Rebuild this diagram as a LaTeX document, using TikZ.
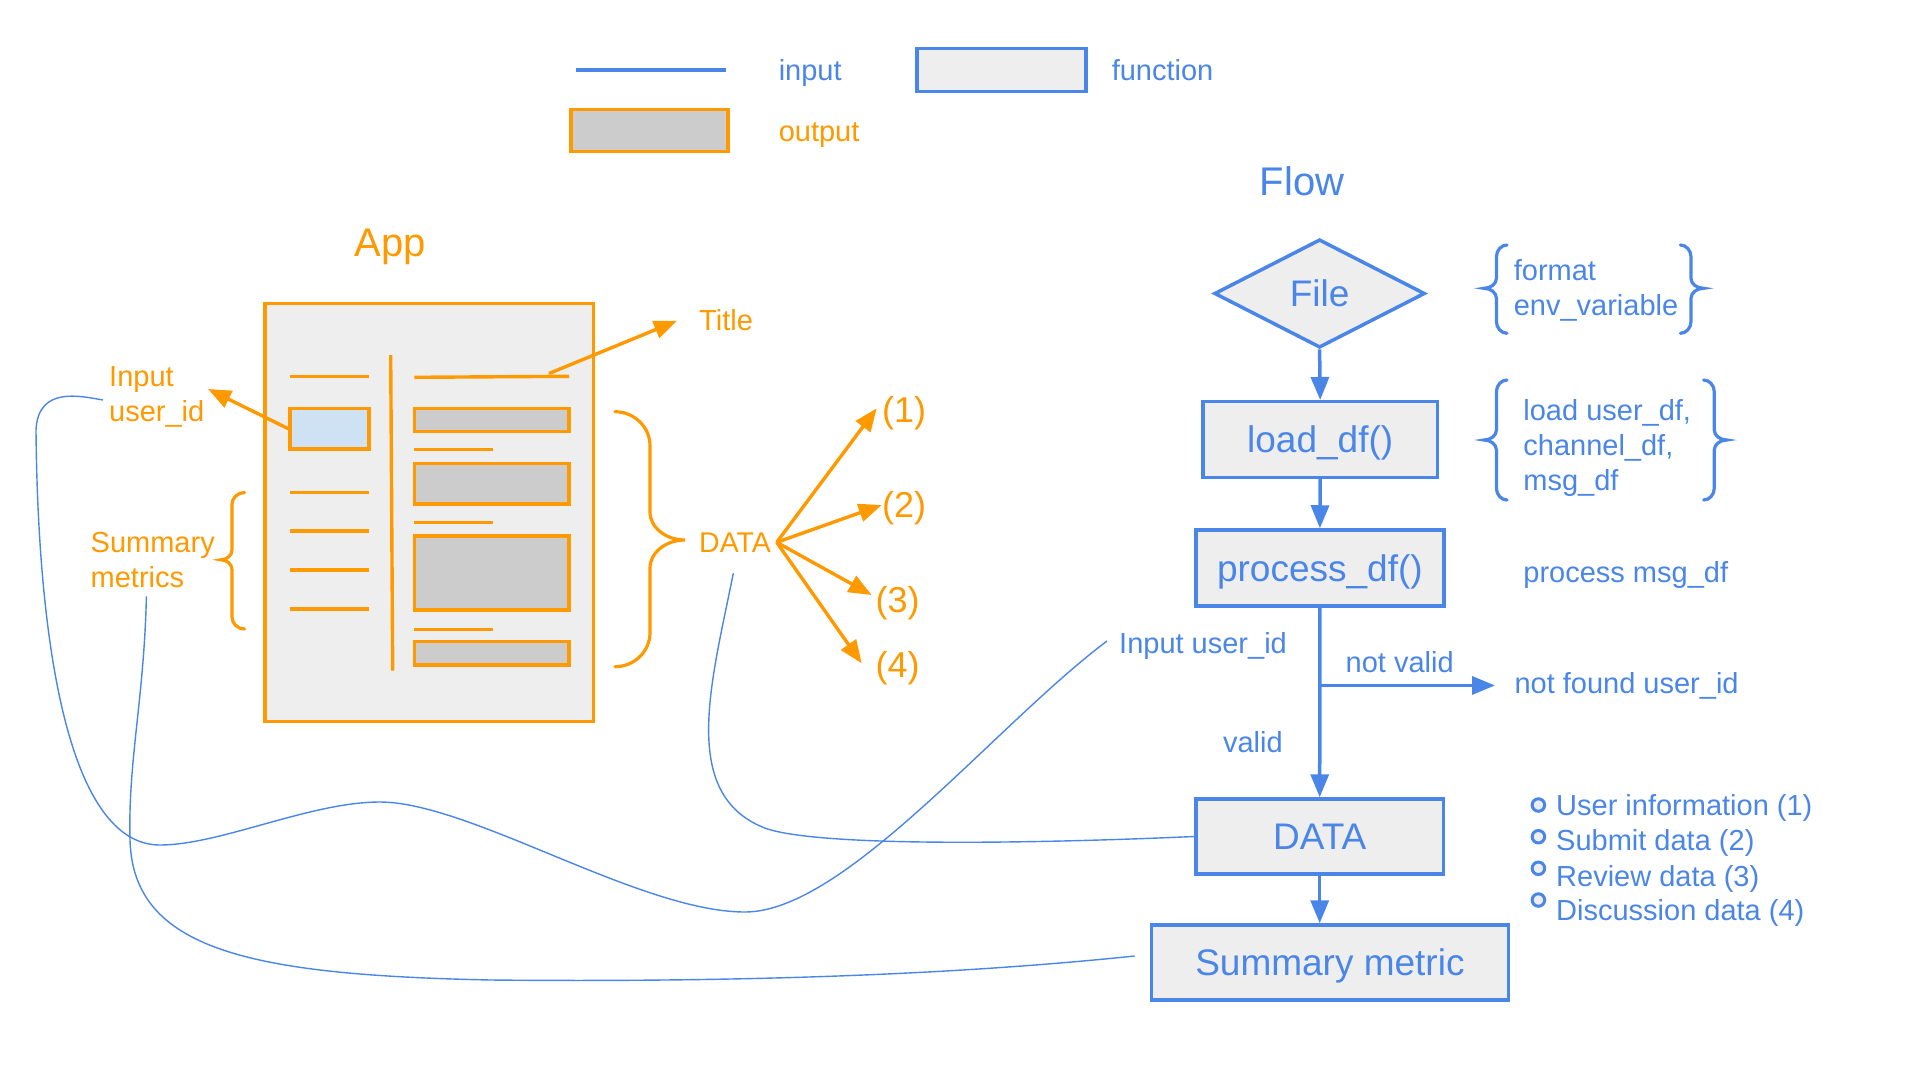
\documentclass[tikz,border=0pt]{standalone}
\usepackage{fontspec}
\setmainfont{Liberation Sans}
\usetikzlibrary{arrows.meta,shapes.geometric,calc}
\definecolor{gblue}{HTML}{4A86E8}
\definecolor{gorange}{HTML}{FF9900}
\definecolor{lgray}{HTML}{EEEEEE}
\definecolor{mgray}{HTML}{CCCCCC}
\definecolor{lblue}{HTML}{CFE2F3}
\newcommand\fntS{\fontsize{29}{35}\selectfont}
\newcommand\fntO{\fontsize{29}{35}\selectfont}
\newcommand\fntD{\fontsize{28.5}{34}\selectfont}
\newcommand\fntP{\fontsize{36}{42}\selectfont}
\newcommand\fntB{\fontsize{37}{44}\selectfont}
\newcommand\fntT{\fontsize{40}{48}\selectfont}
% #1 style, #2 tip x, #3 vertical x, #4 point x, #5 top y, #6 mid y, #7 bottom y, #8 end radius, #9 mid radius
\newcommand\mybrace[9]{\draw[#1] (#2,#5) .. controls ({#3+0.45*(#2-#3)},#5) and (#3,{#5+0.45*#8}) .. (#3,{#5+#8}) -- (#3,{#6-#9}) .. controls (#3,{#6-0.45*#9}) and ({#4+0.55*(#3-#4)},#6) .. (#4,#6) .. controls ({#4+0.55*(#3-#4)},#6) and (#3,{#6+0.45*#9}) .. (#3,{#6+#9}) -- (#3,{#7-#8}) .. controls (#3,{#7-0.45*#8}) and ({#3+0.45*(#2-#3)},#7) .. (#2,#7);}
\begin{document}
\begin{tikzpicture}[x=1pt,y=-1pt,
  txt/.style={inner sep=0pt, anchor=base west, font=\fntS},
  btxt/.style={txt, text=gblue},
  otxt/.style={txt, text=gorange, font=\fntO},
  fbox/.style={rectangle, draw=gblue, fill=lgray, line width=3.5pt, inner sep=0pt, font=\fntB, text=gblue, text depth=0pt},
  ostroke/.style={draw=gorange, line width=3.4pt},
  oline/.style={gorange, line width=3.4pt},
  obrace/.style={gorange, line width=3.2pt, line cap=round},
  bbrace/.style={gblue, line width=3.2pt, line cap=round},
  oarrow/.style={gorange, line width=3.4pt, -{Triangle[length=23pt,width=18pt]}},
  barrow/.style={gblue, line width=3.5pt, -{Triangle[length=23pt,width=18pt]}},
  wire/.style={gblue, line width=1.4pt}
]
\useasboundingbox[fill=white] (0,0) rectangle (1920,1080);

% ---------- legend ----------
\draw[gblue, line width=4pt] (575.5,69.5) -- (726,69.5);
\node[btxt] (lgin) at (778.6,80) {input};
\node[fbox, minimum width=168.7pt, minimum height=43.4pt] (lgfun) at (1001.4,70) {};
\node[btxt] (lgfunt) at (1111.6,80) {function};
\node[rectangle, draw=gorange, fill=mgray, line width=3.5pt, inner sep=0pt, minimum width=156.7pt, minimum height=42.4pt] (lgout) at (649.4,130.5) {};
\node[otxt, font=\fntS] (lgoutt) at (778.6,141) {output};

% ---------- titles ----------
\node[inner sep=0pt, anchor=base, font=\fntT, text=gblue] (flowt) at (1302,195) {Flow};
\node[inner sep=0pt, anchor=base, font=\fntT, text=gorange] (appt) at (390,256) {App};

% ---------- app mock-up ----------
\draw[ostroke, fill=lgray] (265,303.3) rectangle (593.3,721.7);
\foreach \yy in {376.7,492.3,531,570,609} \draw[oline] (290,\yy) -- (369,\yy);
\node[rectangle, draw=gorange, fill=lblue, line width=3.4pt, inner sep=0pt, minimum width=79pt, minimum height=40.7pt] (inbox) at (329.5,428.7) {};
\draw[oline] (390.7,355) -- (392.7,670.7);
\draw[oline] (414.3,377.3) -- (569,376.3);
\coordinate (tlstart) at (549,373.5);
\draw[ostroke, fill=mgray] (414.3,408.3) rectangle (569,431.7);
\draw[ostroke, fill=mgray] (414.3,463.3) rectangle (569,504);
\draw[ostroke, fill=mgray] (414.3,536) rectangle (569,610);
\draw[ostroke, fill=mgray] (414.3,641.7) rectangle (569,665);
\foreach \yy in {449,522.3,629} \draw[gorange, line width=3pt] (414.3,\yy) -- (493,\yy);

% title label
\node[otxt] (ttl) at (699,330) {Title};
\coordinate (ttltip) at (677,320.8);
\draw[oarrow] (tlstart) -- (ttltip);

% input label
\node[otxt] (inl1) at (109,386) {Input};
\node[otxt] (inl2) at (109,421) {user\_id};
\coordinate (intip) at (208,389);
\draw[oarrow] (inbox.west) -- (intip);

% summary metrics label
\node[otxt] (sm1) at (90.5,552.7) {Summary};
\node[otxt] (sm2) at (90.5,587.3) {metrics};
\mybrace{obrace}{244.6}{232}{221}{492.5}{559.8}{629}{12}{10}

% big brace and DATA
\mybrace{obrace}{615}{650}{685}{411.7}{540}{666.7}{34}{28}
\node[otxt, font=\fntD] (odata) at (699,552.7) {DATA};
\coordinate (dorig) at (776.7,542.3);
\node[otxt, font=\fntP] (p1) at (882,422.5) {(1)};
\node[otxt, font=\fntP] (p2) at (882,517) {(2)};
\node[otxt, font=\fntP] (p3) at (875.5,612) {(3)};
\node[otxt, font=\fntP] (p4) at (875.5,677.5) {(4)};
\coordinate (t1) at (876.7,408.3);
\coordinate (t2) at (881.7,505);
\coordinate (t3) at (871.7,595);
\coordinate (t4) at (861.7,663.3);
\foreach \t in {t1,t2,t3,t4} \draw[oarrow] (dorig) -- (\t);

% ---------- flow ----------
\node[diamond, aspect=2, draw=gblue, fill=lgray, line width=3.5pt, inner sep=0pt, minimum width=210.7pt, minimum height=108.4pt, font=\fntB, text=gblue] (file) at (1319.6,293.5) {File};
\node[fbox, minimum width=234.6pt, minimum height=75.6pt] (load) at (1320.2,439.5) {load\_df()};
\node[fbox, minimum width=247.8pt, minimum height=76pt] (proc) at (1319.9,568) {process\_df()};
\node[fbox, minimum width=247.3pt, minimum height=75pt] (data) at (1319.7,836.5) {DATA};
\node[fbox, minimum width=357.2pt, minimum height=75pt] (summ) at (1329.9,962.5) {Summary metric};

\draw[barrow] (file.south) -- (load.north);
\draw[barrow] (load.south) -- (proc.north);
\draw[barrow] (proc.south) -- (data.north);
\coordinate (br) at ($(proc.south)!0.41!(data.north)$);
\node[btxt] (nf) at (1514.3,693.3) {not found user\_id};
\coordinate (nftip) at (1495,684);
\draw[barrow] (br) -- (br -| nftip);
\draw[barrow] (data.south) -- (data.south |- summ.north);

\node[btxt] (nv) at (1345.5,672.7) {not valid};
\node[btxt] (vl) at (1222.8,752) {valid};
\node[btxt] (iuid) at (1119,653) {Input user\_id};

% side notes
\mybrace{bbrace}{1507}{1496.4}{1484}{245}{288.3}{333.3}{12}{10}
\mybrace{bbrace}{1680.4}{1691}{1703.6}{245}{288.3}{333.3}{12}{10}
\node[btxt] (fmt1) at (1513.6,280) {format};
\node[btxt] (fmt2) at (1513.6,315) {env\_variable};
\mybrace{bbrace}{1507}{1496.4}{1484}{380}{440}{500}{12}{10}
\mybrace{bbrace}{1703.6}{1714.3}{1726.8}{380}{440}{500}{12}{10}
\node[btxt] (ld1) at (1523.2,420) {load user\_df,};
\node[btxt] (ld2) at (1523.2,455) {channel\_df,};
\node[btxt] (ld3) at (1523.2,490.7) {msg\_df};
\node[btxt] (pm) at (1523.2,582) {process msg\_df};

% bullets
\foreach \yy [count=\i] in {805,836.7,868.3,900}{
  \node[circle, draw=gblue, fill=lgray, line width=3pt, inner sep=0pt, minimum size=12.5pt] (b\i) at (1538.4,\yy) {};
}
\node[btxt] (bt1) at (1556,815.7) {User information (1)};
\node[btxt] (bt2) at (1556,850.7) {Submit data (2)};
\node[btxt] (bt3) at (1556,886) {Review data (3)};
\node[btxt] (bt4) at (1556,920.7) {Discussion data (4)};

% ---------- wires ----------
\coordinate (wA) at (103,400);
\coordinate (wAe) at (1107,641);
\draw[wire] (wA) .. controls (80,396) and (38,386) .. (36,430)
  .. controls (38,650) and (70,845) .. (160,845)
  .. controls (220,845) and (310,802) .. (380,802)
  .. controls (470,802) and (640,912) .. (745,912)
  .. controls (845,912) and (995,725) .. (wAe);
\coordinate (wB) at (146.4,596.3);
\coordinate (wBe) at (1134.7,956);
\draw[wire] (wB) .. controls (144,700) and (128,760) .. (130,840)
  .. controls (133,950) and (250,975) .. (491,980)
  .. controls (800,983) and (1000,970) .. (wBe);
\coordinate (wC) at (733.3,573.3);
\coordinate (wCm) at (760,826);
\draw[wire] (wC) .. controls (712,680) and (680,790) .. (wCm)
  .. controls (800,846) and (1000,845) .. (data.west);
\end{tikzpicture}
\end{document}
